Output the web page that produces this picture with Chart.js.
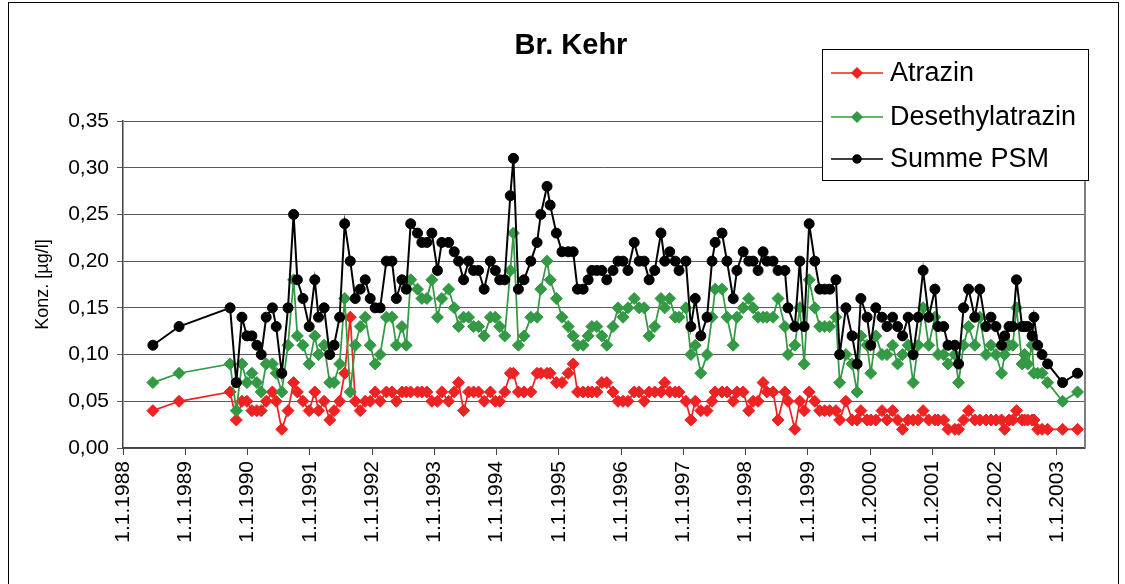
<!DOCTYPE html>
<html>
<head>
<meta charset="utf-8">
<script src="https://cdn.jsdelivr.net/npm/chart.js@4.4.0/dist/chart.umd.min.js"></script>
<style>
  html, body { margin: 0; padding: 0; background: #fff; }
  #wrap { position: relative; width: 1125px; height: 584px; }
</style>
</head>
<body>
<div id="wrap"><canvas id="chart" width="1125" height="584"></canvas></div>
<script>
// sampling dates as decimal years (Br. Kehr)
const dates = [
  1988.48, 1988.90, 1989.72, 1989.82, 1989.91, 1989.99, 1990.07, 1990.15, 1990.22, 1990.30,
  1990.40, 1990.46, 1990.55, 1990.65, 1990.74, 1990.80, 1990.89, 1990.99, 1991.08, 1991.14,
  1991.23, 1991.32, 1991.39, 1991.48, 1991.56, 1991.65, 1991.73, 1991.81, 1991.89, 1991.97,
  1992.05, 1992.13, 1992.23, 1992.32, 1992.39, 1992.48, 1992.55, 1992.62, 1992.73, 1992.80,
  1992.88, 1992.96, 1993.05, 1993.12, 1993.23, 1993.32, 1993.39, 1993.47, 1993.55, 1993.63,
  1993.71, 1993.80, 1993.90, 1993.98, 1994.05, 1994.13, 1994.22, 1994.27, 1994.35, 1994.44,
  1994.55, 1994.65, 1994.71, 1994.81, 1994.86, 1994.96, 1995.05, 1995.15, 1995.23, 1995.30,
  1995.39, 1995.47, 1995.53, 1995.61, 1995.69, 1995.77, 1995.87, 1995.95, 1996.03, 1996.11,
  1996.21, 1996.29, 1996.37, 1996.45, 1996.54, 1996.64, 1996.70, 1996.78, 1996.87, 1996.93,
  1997.04, 1997.12, 1997.19, 1997.28, 1997.38, 1997.46, 1997.51, 1997.62, 1997.70, 1997.80,
  1997.86, 1997.96, 1998.05, 1998.12, 1998.20, 1998.28, 1998.34, 1998.44, 1998.52, 1998.63,
  1998.68, 1998.79, 1998.87, 1998.94, 1999.02, 1999.11, 1999.19, 1999.27, 1999.35, 1999.45,
  1999.51, 1999.61, 1999.71, 1999.79, 1999.85, 1999.95, 2000.01, 2000.09, 2000.19, 2000.27,
  2000.36, 2000.44, 2000.52, 2000.61, 2000.69, 2000.77, 2000.85, 2000.94, 2001.04, 2001.09,
  2001.18, 2001.25, 2001.36, 2001.42, 2001.50, 2001.58, 2001.68, 2001.76, 2001.86, 2001.94,
  2002.02, 2002.11, 2002.16, 2002.23, 2002.29, 2002.35, 2002.44, 2002.48, 2002.53, 2002.60,
  2002.63, 2002.69, 2002.76, 2002.85, 2003.09, 2003.33
]
const atrazin = [
  0.04, 0.05, 0.06, 0.03, 0.05, 0.05, 0.04, 0.04, 0.04, 0.05,
  0.06, 0.05, 0.02, 0.04, 0.07, 0.06, 0.05, 0.04, 0.06, 0.04,
  0.05, 0.03, 0.04, 0.05, 0.08, 0.14, 0.05, 0.04, 0.05, 0.05,
  0.06, 0.05, 0.06, 0.06, 0.05, 0.06, 0.06, 0.06, 0.06, 0.06,
  0.06, 0.05, 0.05, 0.06, 0.05, 0.06, 0.07, 0.04, 0.06, 0.06,
  0.06, 0.05, 0.06, 0.05, 0.05, 0.06, 0.08, 0.08, 0.06, 0.06,
  0.06, 0.08, 0.08, 0.08, 0.08, 0.07, 0.07, 0.08, 0.09, 0.06,
  0.06, 0.06, 0.06, 0.06, 0.07, 0.07, 0.06, 0.05, 0.05, 0.05,
  0.06, 0.06, 0.05, 0.06, 0.06, 0.06, 0.07, 0.06, 0.06, 0.06,
  0.05, 0.03, 0.05, 0.04, 0.04, 0.05, 0.06, 0.06, 0.06, 0.05,
  0.06, 0.06, 0.04, 0.05, 0.05, 0.07, 0.06, 0.06, 0.03, 0.06,
  0.05, 0.02, 0.05, 0.04, 0.06, 0.05, 0.04, 0.04, 0.04, 0.04,
  0.03, 0.05, 0.03, 0.03, 0.04, 0.03, 0.03, 0.03, 0.04, 0.03,
  0.04, 0.03, 0.02, 0.03, 0.03, 0.03, 0.04, 0.03, 0.03, 0.03,
  0.03, 0.02, 0.02, 0.02, 0.03, 0.04, 0.03, 0.03, 0.03, 0.03,
  0.03, 0.03, 0.02, 0.03, 0.03, 0.04, 0.03, 0.03, 0.03, 0.03,
  0.03, 0.02, 0.02, 0.02, 0.02, 0.02
]
const desethylatrazin = [
  0.07, 0.08, 0.09, 0.04, 0.09, 0.07, 0.08, 0.07, 0.06, 0.09,
  0.09, 0.08, 0.06, 0.11, 0.18, 0.12, 0.11, 0.09, 0.12, 0.10,
  0.11, 0.07, 0.07, 0.09, 0.16, 0.06, 0.11, 0.13, 0.14, 0.11,
  0.09, 0.10, 0.14, 0.14, 0.11, 0.13, 0.11, 0.18, 0.17, 0.16,
  0.16, 0.18, 0.14, 0.16, 0.17, 0.15, 0.13, 0.14, 0.14, 0.13,
  0.13, 0.12, 0.14, 0.14, 0.13, 0.12, 0.19, 0.23, 0.11, 0.12,
  0.14, 0.14, 0.17, 0.20, 0.18, 0.16, 0.14, 0.13, 0.12, 0.11,
  0.11, 0.12, 0.13, 0.13, 0.12, 0.11, 0.13, 0.15, 0.14, 0.15,
  0.16, 0.15, 0.15, 0.12, 0.13, 0.16, 0.15, 0.16, 0.14, 0.14,
  0.15, 0.10, 0.11, 0.08, 0.10, 0.14, 0.17, 0.17, 0.14, 0.11,
  0.14, 0.15, 0.16, 0.15, 0.14, 0.14, 0.14, 0.14, 0.16, 0.13,
  0.10, 0.11, 0.15, 0.09, 0.18, 0.15, 0.13, 0.13, 0.13, 0.14,
  0.07, 0.10, 0.09, 0.06, 0.12, 0.11, 0.08, 0.12, 0.10, 0.10,
  0.11, 0.09, 0.10, 0.11, 0.07, 0.11, 0.15, 0.11, 0.14, 0.10,
  0.10, 0.09, 0.10, 0.07, 0.11, 0.13, 0.11, 0.14, 0.10, 0.11,
  0.10, 0.08, 0.10, 0.11, 0.11, 0.15, 0.09, 0.10, 0.09, 0.11,
  0.08, 0.08, 0.08, 0.07, 0.05, 0.06
]
const summePSM = [
  0.11, 0.13, 0.15, 0.07, 0.14, 0.12, 0.12, 0.11, 0.10, 0.14,
  0.15, 0.13, 0.08, 0.15, 0.25, 0.18, 0.16, 0.13, 0.18, 0.14,
  0.15, 0.10, 0.11, 0.14, 0.24, 0.20, 0.16, 0.17, 0.18, 0.16,
  0.15, 0.15, 0.20, 0.20, 0.16, 0.18, 0.17, 0.24, 0.23, 0.22,
  0.22, 0.23, 0.19, 0.22, 0.22, 0.21, 0.20, 0.18, 0.20, 0.19,
  0.19, 0.17, 0.20, 0.19, 0.18, 0.18, 0.27, 0.31, 0.17, 0.18,
  0.20, 0.22, 0.25, 0.28, 0.26, 0.23, 0.21, 0.21, 0.21, 0.17,
  0.17, 0.18, 0.19, 0.19, 0.19, 0.18, 0.19, 0.20, 0.20, 0.19,
  0.22, 0.20, 0.20, 0.18, 0.19, 0.23, 0.20, 0.21, 0.20, 0.19,
  0.20, 0.13, 0.16, 0.12, 0.14, 0.20, 0.22, 0.23, 0.20, 0.16,
  0.19, 0.21, 0.20, 0.20, 0.19, 0.21, 0.20, 0.20, 0.19, 0.19,
  0.15, 0.13, 0.20, 0.13, 0.24, 0.20, 0.17, 0.17, 0.17, 0.18,
  0.10, 0.15, 0.12, 0.09, 0.16, 0.14, 0.11, 0.15, 0.14, 0.13,
  0.14, 0.13, 0.12, 0.14, 0.10, 0.14, 0.19, 0.14, 0.17, 0.13,
  0.13, 0.11, 0.11, 0.09, 0.15, 0.17, 0.14, 0.17, 0.13, 0.14,
  0.13, 0.11, 0.12, 0.13, 0.13, 0.18, 0.13, 0.13, 0.13, 0.12,
  0.14, 0.11, 0.10, 0.09, 0.07, 0.08
]
const yearTicks = [1988, 1989, 1990, 1991, 1992, 1993, 1994, 1995, 1996, 1997, 1998, 1999, 2000, 2001, 2002, 2003]
const valueTicks = [0, 0.05, 0.10, 0.15, 0.20, 0.25, 0.30, 0.35]
const chartTitle = 'Br. Kehr'
const axisTitle = 'Konz. [µg/l]'

const FONT = "'Liberation Sans', Arial, sans-serif"
const toPoints = values => dates.map((d, i) => ({ x: d, y: values[i] }))

// white background, frame, plot border, title and the boxed legend
const excelLook = {
    id: 'excelLook',
    beforeDraw(chart) {
        const { ctx, width, height } = chart
        ctx.save()
        ctx.fillStyle = '#ffffff'
        ctx.fillRect(0, 0, width, height)
        ctx.restore()
    },
    afterDraw(chart) {
        const { ctx, chartArea } = chart
        ctx.save()
        // outer frame
        ctx.strokeStyle = '#000000'
        ctx.lineWidth = 1
        ctx.strokeRect(8.5, 2.5, 1110, 600)
        // right border of plot area
        ctx.strokeStyle = '#808080'
        ctx.lineWidth = 2
        ctx.beginPath()
        ctx.moveTo(chartArea.right, chartArea.top)
        ctx.lineTo(chartArea.right, chartArea.bottom)
        ctx.stroke()
        // title
        ctx.fillStyle = '#000000'
        ctx.font = 'bold 29px ' + FONT
        ctx.textAlign = 'center'
        ctx.textBaseline = 'middle'
        ctx.fillText(chartTitle, 571, 46)
        // legend
        const box = { x: 822, y: 49, w: 266, h: 131 }
        ctx.fillStyle = '#ffffff'
        ctx.fillRect(box.x, box.y, box.w, box.h)
        ctx.strokeStyle = '#000000'
        ctx.lineWidth = 1
        ctx.strokeRect(box.x + 0.5, box.y + 0.5, box.w, box.h)
        const rows = [73, 117, 159]
        chart.data.datasets.forEach((ds, i) => {
            const y = rows[i]
            ctx.strokeStyle = ds.borderColor
            ctx.lineWidth = 1.5
            ctx.beginPath()
            ctx.moveTo(831, y)
            ctx.lineTo(883, y)
            ctx.stroke()
            ctx.fillStyle = ds.pointBackgroundColor
            ctx.strokeStyle = ds.pointBorderColor
            Chart.helpers.drawPoint(ctx, {
                pointStyle: ds.pointStyle, rotation: 0,
                radius: ds.pointStyle === 'circle' ? 4 : 5, borderWidth: 1
            }, 857, y)
            ctx.fillStyle = '#000000'
            ctx.font = '27px ' + FONT
            ctx.textAlign = 'left'
            ctx.textBaseline = 'middle'
            ctx.fillText(ds.label, 890, y + 1)
        })
        ctx.restore()
    }
}

const chart = new Chart(document.getElementById('chart'), {
    type: 'line',
    data: {
        datasets: [
            {
                label: 'Atrazin',
                data: toPoints(atrazin),
                borderColor: '#ee2222',
                borderWidth: 1.75,
                pointStyle: 'rectRot',
                pointRadius: 6,
                pointBackgroundColor: '#ee2222',
                pointBorderColor: '#ee2222',
                pointBorderWidth: 1,
                tension: 0,
                order: 2
            },
            {
                label: 'Desethylatrazin',
                data: toPoints(desethylatrazin),
                borderColor: '#339944',
                borderWidth: 1.75,
                pointStyle: 'rectRot',
                pointRadius: 6,
                pointBackgroundColor: '#339944',
                pointBorderColor: '#339944',
                pointBorderWidth: 1,
                tension: 0,
                order: 1
            },
            {
                label: 'Summe PSM',
                data: toPoints(summePSM),
                borderColor: '#000000',
                borderWidth: 2,
                pointStyle: 'circle',
                pointRadius: 5,
                pointBackgroundColor: '#000000',
                pointBorderColor: '#000000',
                pointBorderWidth: 1,
                tension: 0,
                order: 0
            }
        ]
    },
    options: {
        responsive: false,
        animation: false,
        layout: { padding: { top: 121, right: 40, left: 0, bottom: 0 } },
        plugins: {
            legend: { display: false },
            title: { display: false },
            tooltip: { enabled: false }
        },
        scales: {
            x: {
                type: 'linear',
                min: 1988,
                max: 2003.45,
                afterBuildTicks: scale => { scale.ticks = yearTicks.map(v => ({ value: v })) },
                afterFit: scale => { scale.height = 136 },
                grid: { drawOnChartArea: false, tickLength: 7, color: '#404040' },
                border: { color: '#404040', width: 1.5 },
                ticks: {
                    minRotation: 90,
                    maxRotation: 90,
                    padding: 6,
                    color: '#000000',
                    font: { family: FONT, size: 21 },
                    callback: v => '1.1.' + v
                }
            },
            y: {
                min: 0,
                max: 0.35,
                afterBuildTicks: scale => { scale.ticks = valueTicks.map(v => ({ value: v })) },
                afterFit: scale => { scale.width = 123 },
                grid: { color: '#5a5a5a', tickLength: 6 },
                border: { color: '#404040', width: 1.5 },
                ticks: {
                    padding: 8,
                    color: '#000000',
                    font: { family: FONT, size: 21 },
                    callback: v => v.toFixed(2).replace('.', ',')
                },
                title: {
                    display: true,
                    text: axisTitle,
                    color: '#000000',
                    font: { family: FONT, size: 18 },
                    padding: { top: 32, bottom: 0 }
                }
            }
        }
    },
    plugins: [excelLook]
})
</script>
</body>
</html>
